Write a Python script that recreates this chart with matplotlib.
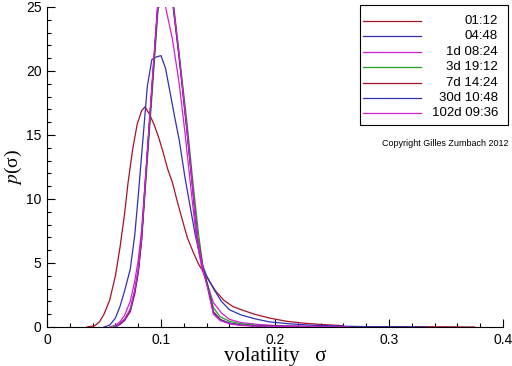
import matplotlib
matplotlib.use("Agg")
import matplotlib.pyplot as plt
from matplotlib.ticker import MultipleLocator, FuncFormatter
from matplotlib.lines import Line2D
from matplotlib.patches import Rectangle

plt.rcParams["font.family"] = ["Liberation Sans", "DejaVu Sans"]
plt.rcParams["mathtext.fontset"] = "stix"

# Leyenda (escalas de tiempo) y colores
labels = ["01:12", "04:48", "1d 08:24", "3d 19:12", "7d 14:24", "30d 10:48", "102d 09:36"]
colors = ["#a8102a", "#3030b8", "#d020d0", "#20a020", "#a8102a", "#3030b8", "#d020d0"]

# Datos: volatilidad (x) y densidad p(sigma) (y)
x_0112 = [0.035, 0.042, 0.046, 0.05, 0.055, 0.06, 0.064, 0.068, 0.071, 0.075, 0.079, 0.083,
          0.086, 0.09, 0.094, 0.098, 0.102, 0.106, 0.11, 0.114, 0.118, 0.123, 0.128, 0.133,
          0.138, 0.143, 0.148, 0.155, 0.163, 0.172, 0.182, 0.195, 0.21, 0.225, 0.24, 0.26]
y_0112 = [0.0, 0.1, 0.4, 1.0, 2.1, 4.0, 6.2, 8.8, 11.2, 13.8, 15.8, 16.9,
          17.2, 16.6, 15.8, 14.8, 13.6, 12.3, 11.3, 9.9, 8.6, 7.0, 5.9, 4.9,
          4.2, 3.5, 2.8, 2.1, 1.6, 1.3, 1.0, 0.7, 0.45, 0.3, 0.2, 0.1]

x_0448 = [0.05, 0.055, 0.06, 0.064, 0.068, 0.073, 0.077, 0.08, 0.084, 0.088, 0.092, 0.096,
          0.1, 0.104, 0.108, 0.112, 0.116, 0.121, 0.125, 0.13, 0.135, 0.14, 0.146, 0.153,
          0.16, 0.17, 0.182, 0.195, 0.213, 0.23, 0.26, 0.3]
y_0448 = [0.0, 0.15, 0.7, 1.6, 2.8, 4.5, 7.2, 10.2, 14.5, 18.8, 20.9, 21.1,
          21.2, 20.2, 18.3, 16.4, 14.6, 11.7, 9.7, 7.2, 5.2, 4.0, 3.0, 2.0,
          1.35, 0.95, 0.65, 0.4, 0.25, 0.15, 0.06, 0.0]

x_1d = [0.055, 0.06, 0.064, 0.068, 0.073, 0.077, 0.08, 0.083, 0.086, 0.09, 0.094, 0.097,
        0.1, 0.104, 0.11, 0.116, 0.121, 0.126, 0.131, 0.136, 0.14, 0.146, 0.153, 0.16,
        0.17, 0.185, 0.2, 0.23, 0.26]
y_1d = [0.0, 0.15, 0.4, 0.9, 2.0, 3.6, 5.2, 7.6, 11.2, 16.0, 21.0, 24.8,
        25.3, 25.0, 22.5, 19.0, 15.2, 11.0, 7.0, 4.5, 3.5, 1.9, 1.1, 0.6,
        0.35, 0.2, 0.12, 0.05, 0.0]

x_3d = [0.058, 0.064, 0.068, 0.073, 0.077, 0.08, 0.083, 0.086, 0.09, 0.094, 0.097, 0.1,
        0.105, 0.111, 0.117, 0.123, 0.128, 0.133, 0.137, 0.141, 0.146, 0.152, 0.16, 0.17,
        0.185, 0.2, 0.24]
y_3d = [0.0, 0.25, 0.6, 1.3, 2.8, 4.3, 6.8, 10.5, 15.5, 20.5, 24.3, 27.0,
        28.5, 25.2, 20.5, 15.8, 11.3, 7.2, 4.6, 3.3, 1.5, 0.8, 0.45, 0.25,
        0.12, 0.06, 0.0]

x_7d = [0.06, 0.064, 0.068, 0.073, 0.077, 0.08, 0.083, 0.086, 0.09, 0.094, 0.097, 0.1,
        0.105, 0.11, 0.116, 0.122, 0.127, 0.132, 0.137, 0.141, 0.146, 0.152, 0.16, 0.17,
        0.185, 0.2, 0.25, 0.3, 0.34, 0.375]
y_7d = [0.0, 0.2, 0.5, 1.2, 2.6, 4.2, 6.8, 10.8, 16.0, 21.0, 24.8, 27.8,
        29.5, 25.5, 21.0, 16.0, 11.5, 7.0, 4.5, 3.2, 1.2, 0.6, 0.3, 0.15,
        0.08, 0.05, 0.03, 0.02, 0.02, 0.0]

x_30d = [0.06, 0.064, 0.068, 0.073, 0.077, 0.08, 0.083, 0.086, 0.09, 0.094, 0.097, 0.1,
         0.105, 0.11, 0.116, 0.122, 0.127, 0.132, 0.137, 0.141, 0.146, 0.152, 0.16, 0.17,
         0.185, 0.2, 0.25, 0.3, 0.333]
y_30d = [0.0, 0.25, 0.55, 1.3, 2.8, 4.4, 7.0, 11.0, 16.2, 21.2, 25.0, 28.0,
         30.0, 25.6, 21.0, 16.0, 11.6, 7.0, 4.5, 3.1, 1.1, 0.55, 0.3, 0.15,
         0.08, 0.05, 0.03, 0.02, 0.0]

x_102d = [0.06, 0.064, 0.068, 0.073, 0.077, 0.08, 0.083, 0.086, 0.09, 0.094, 0.097, 0.1,
          0.105, 0.11, 0.116, 0.122, 0.127, 0.132, 0.137, 0.141, 0.146, 0.152, 0.16, 0.17,
          0.185, 0.2, 0.23, 0.265]
y_102d = [0.0, 0.3, 0.6, 1.4, 2.9, 4.5, 7.1, 11.1, 16.3, 21.3, 25.0, 28.2,
          30.2, 25.8, 21.2, 16.1, 11.6, 7.0, 4.4, 3.0, 1.0, 0.5, 0.25, 0.12,
          0.06, 0.04, 0.02, 0.0]

series = [(x_0112, y_0112), (x_0448, y_0448), (x_1d, y_1d), (x_3d, y_3d),
          (x_7d, y_7d), (x_30d, y_30d), (x_102d, y_102d)]

fig = plt.figure(figsize=(5.12, 3.66), dpi=100)
ax = fig.add_axes([47 / 512, 39 / 366, 456 / 512, 320 / 366])

for (xs, ys), c in zip(series, colors):
    ax.plot(xs, ys, color=c, lw=0.9)

ax.set_xlim(0, 0.4)
ax.set_ylim(0, 25)
ax.spines["top"].set_visible(False)
ax.spines["right"].set_visible(False)
ax.xaxis.set_major_locator(MultipleLocator(0.1))
ax.xaxis.set_minor_locator(MultipleLocator(0.02))
ax.yaxis.set_major_locator(MultipleLocator(5))
ax.yaxis.set_minor_locator(MultipleLocator(1))
ax.xaxis.set_major_formatter(FuncFormatter(lambda v, p: "0" if abs(v) < 1e-9 else f"{v:.1f}"))
ax.tick_params(which="major", direction="in", length=6, width=0.8, labelsize=10, pad=4)
ax.tick_params(which="minor", direction="in", length=3, width=0.8)

ax.set_xlabel("volatility   σ", fontfamily="Liberation Serif", fontsize=15, labelpad=0)
ax.set_ylabel("$p$(σ)", fontfamily="Liberation Serif", fontsize=14, labelpad=1)

# Leyenda dibujada a mano (texto alineado a la derecha)
leg_ax = fig.add_axes([0, 0, 1, 1], facecolor="none")
leg_ax.set_xlim(0, 512)
leg_ax.set_ylim(366, 0)
leg_ax.axis("off")
leg_ax.add_patch(Rectangle((360, 5), 148, 120, fill=False, lw=0.8, edgecolor="black"))
for i, (lab, c) in enumerate(zip(labels, colors)):
    yy = 21 + i * 15.4
    leg_ax.add_line(Line2D([363, 421], [yy, yy], color=c, lw=0.9))
    leg_ax.text(498, yy, lab, ha="right", va="center", fontsize=9.5)

leg_ax.text(508, 143, "Copyright Gilles Zumbach 2012", ha="right", va="center", fontsize=6.5)

fig.savefig("out.png", dpi=100)
